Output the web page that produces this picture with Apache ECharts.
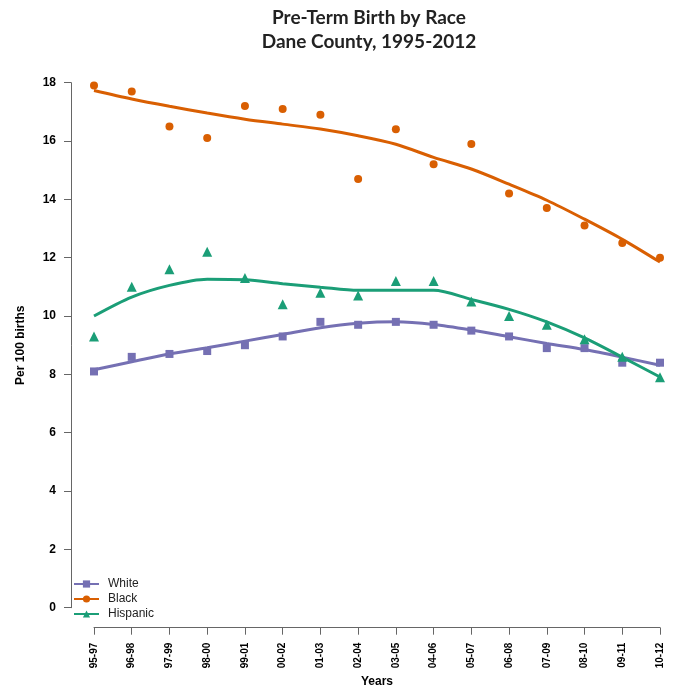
<!DOCTYPE html>
<html>
<head>
<meta charset="utf-8">
<script src="https://cdn.jsdelivr.net/npm/echarts@6/dist/echarts.min.js"></script>
<style>
  html, body { margin: 0; padding: 0; background: #fff; }
  #chart { width: 673px; height: 685px; }
</style>
</head>
<body>
<div id="chart"></div>
<script>
// Three-year rolling periods
const periods = ['95-97', '96-98', '97-99', '98-00', '99-01', '00-02', '01-03', '02-04',
                 '03-05', '04-06', '05-07', '06-08', '07-09', '08-10', '09-11', '10-12'];

// Observed pre-term births per 100 births
const whiteRates    = [8.1, 8.6, 8.7, 8.8, 9.0, 9.3, 9.8, 9.7, 9.8, 9.7, 9.5, 9.3, 8.9, 8.9, 8.4, 8.4];
const blackRates    = [17.9, 17.7, 16.5, 16.1, 17.2, 17.1, 16.9, 14.7, 16.4, 15.2, 15.9, 14.2, 13.7, 13.1, 12.5, 12.0];
const hispanicRates = [9.3, 11.0, 11.6, 12.2, 11.3, 10.4, 10.8, 10.7, 11.2, 11.2, 10.5, 10.0, 9.7, 9.2, 8.6, 7.9];

// Smoothed trend for each group
const whiteTrend    = [8.16, 8.43, 8.70, 8.91, 9.14, 9.37, 9.60, 9.75, 9.80, 9.71, 9.52, 9.29, 9.06, 8.85, 8.59, 8.31];
const blackTrend    = [17.73, 17.44, 17.19, 16.96, 16.75, 16.58, 16.41, 16.18, 15.89, 15.44, 15.04, 14.52, 13.97, 13.32, 12.63, 11.85];
const hispanicTrend = [10.0, 10.65, 11.05, 11.26, 11.24, 11.11, 10.99, 10.88, 10.88, 10.88, 10.57, 10.23, 9.80, 9.25, 8.59, 7.91];

const yTicks = { min: 0, max: 18, interval: 2 };

const colors = { White: '#7570B3', Black: '#D95F02', Hispanic: '#1B9E77' };

const groups = [
  { name: 'White',    rates: whiteRates,    trend: whiteTrend,    symbol: 'rect',     size: 8 },
  { name: 'Black',    rates: blackRates,    trend: blackTrend,    symbol: 'circle',   size: 8 },
  { name: 'Hispanic', rates: hispanicRates, trend: hispanicTrend, symbol: 'triangle', size: 10 }
];

const axisColor = '#666';
const boldLabel = { fontFamily: 'Liberation Sans, Arial, sans-serif', fontWeight: 'bold', color: '#000' };

const series = [];
// trend lines first so the legend takes their line+marker icon
groups.forEach(g => {
  series.push({
    name: g.name,
    type: 'line',
    data: g.trend,
    smooth: 0.3,
    symbol: g.symbol,
    symbolSize: g.size,
    showSymbol: false,
    lineStyle: { width: 3, color: colors[g.name] },
    itemStyle: { color: colors[g.name] },
    z: 2
  });
});
groups.forEach(g => {
  series.push({
    name: g.name,
    type: 'scatter',
    data: g.rates,
    symbol: g.symbol,
    symbolSize: g.size,
    itemStyle: { color: colors[g.name], opacity: 1 },
    z: 3
  });
});

const chart = echarts.init(document.getElementById('chart'), null, { renderer: 'canvas' });
chart.setOption({
  animation: false,
  backgroundColor: '#fff',
  title: {
    text: 'Pre-Term Birth by Race\nDane County, 1995-2012',
    left: 364,
    textAlign: 'center',
    top: 1,
    textStyle: {
      fontFamily: 'Lato, sans-serif',
      fontWeight: 'bold',
      fontSize: 19,
      lineHeight: 24,
      color: '#222'
    }
  },
  legend: {
    data: ['White', 'Black', 'Hispanic'],
    orient: 'vertical',
    left: 73,
    top: 577,
    padding: 0,
    itemWidth: 25,
    itemHeight: 9,
    itemGap: 1,
    textStyle: {
      fontFamily: 'Liberation Sans, Arial, sans-serif',
      fontSize: 12,
      lineHeight: 14,
      color: '#222',
      padding: [0, 0, 0, 4]
    }
  },
  grid: { left: 94, right: 13, top: 82.7, bottom: 77.3, containLabel: false, outerBoundsMode: 'none' },
  xAxis: {
    type: 'category',
    data: periods,
    boundaryGap: false,
    offset: 20,
    name: 'Years',
    nameLocation: 'middle',
    nameGap: 44,
    nameTextStyle: Object.assign({ fontSize: 12 }, boldLabel),
    axisLine: { show: true, onZero: false, lineStyle: { color: axisColor, width: 1 } },
    axisTick: { length: 7, lineStyle: { color: axisColor } },
    axisLabel: Object.assign({ rotate: 90, fontSize: 10, margin: 15, interval: 0 }, boldLabel),
    splitLine: { show: false }
  },
  yAxis: {
    type: 'value',
    min: yTicks.min,
    max: yTicks.max,
    interval: yTicks.interval,
    offset: 23,
    name: 'Per 100 births',
    nameLocation: 'middle',
    nameGap: 44,
    nameTextStyle: Object.assign({ fontSize: 12 }, boldLabel),
    axisLine: { show: true, onZero: false, lineStyle: { color: axisColor, width: 1 } },
    axisTick: { show: true, length: 7, lineStyle: { color: axisColor } },
    axisLabel: Object.assign({ fontSize: 12, margin: 15 }, boldLabel),
    splitLine: { show: false }
  },
  series: series
});
</script>
</body>
</html>
